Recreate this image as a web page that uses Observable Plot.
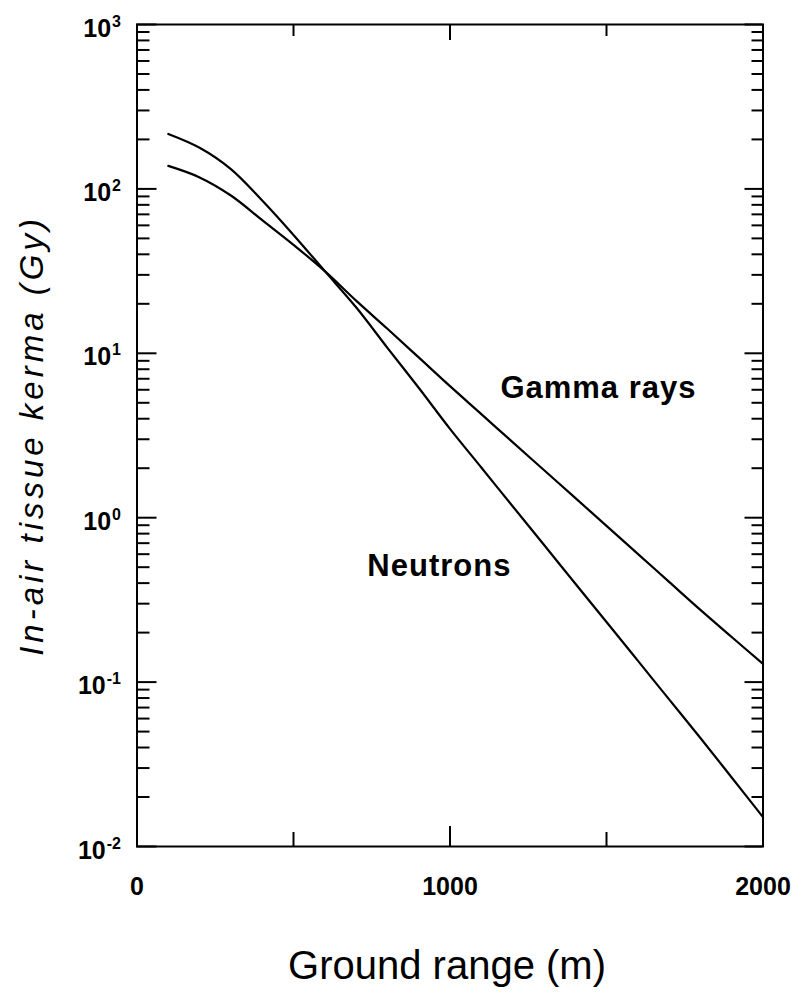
<!DOCTYPE html>
<html><head><meta charset="utf-8">
<script src="https://cdn.jsdelivr.net/npm/d3@7"></script>
<script src="https://cdn.jsdelivr.net/npm/@observablehq/plot@0.6"></script>
<style>body{margin:0;background:#fff}</style>
</head><body><div id="chart"></div>
<script>
// Ground range (m)
const rangeM = [100,200,300,400,500,600,700,800,900,1000,1100,1200,1300,1400,1500,1600,1700,1800,1900,2000];
// In-air tissue kerma (Gy)
const gammaGy   = [138,117.5,91.2,64.6,45.7,31.6,20.9,14.1,9.44,6.31,4.27,2.88,1.95,1.32,0.891,0.603,0.407,0.275,0.188,0.129];
const neutronGy = [216,178,132,85,52.5,31.6,19.05,10.8,6.17,3.47,2.02,1.175,0.684,0.398,0.232,0.135,0.0785,0.0457,0.0263,0.0151];

const yDecades = [0.01,0.1,1,10,100,1000];
const yMinorMultipliers = [2,3,4,5,6,7,8,9];
const xLabelTicks = [0,1000,2000];
const xMajorTicks = [1000];
const xMinorTicks = [500,1500];

const seriesLabels = ["Gamma rays","Neutrons"];
const labelX = [1161, 736];
const labelY = [5.38, 0.445];

const xTitle = "Ground range (m)";
const yTitle = "In-air tissue kerma (Gy)";

const gammaTable = rangeM.map((x,i)=>({x, y: gammaGy[i]}));
const neutronTable = rangeM.map((x,i)=>({x, y: neutronGy[i]}));
const labelTable = seriesLabels.map((t,i)=>({t, x: labelX[i], y: labelY[i]}));
const yMinor = yDecades.slice(0,-1).flatMap(d => yMinorMultipliers.map(k => k*d));

const W = 804, H = 996, ML = 136.5, MR = 41.5, MT = 24, MB = 150;
const PW = W - ML - MR, PH = H - MT - MB;
const font = "'Liberation Sans', Arial, Helvetica, sans-serif";
const tk = {strokeWidth: 2, stroke: "black"};

const chart = Plot.plot({
  width: W, height: H,
  marginTop: MT, marginRight: MR, marginBottom: MB, marginLeft: ML,
  style: {fontFamily: font, color: "black", background: "white"},
  x: {domain: [0,2000], axis: null},
  y: {type: "log", domain: [0.01,1000], axis: null},
  marks: [
    // inward ticks, left side
    Plot.tickY(yDecades, {y: d => d, insetRight: PW - 20, ...tk}),
    Plot.tickY(yMinor, {y: d => d, insetRight: PW - 13, ...tk}),
    // inward ticks, right side
    Plot.tickY(yDecades, {y: d => d, insetLeft: PW - 18, ...tk}),
    Plot.tickY(yMinor, {y: d => d, insetLeft: PW - 11, ...tk}),
    // inward ticks, bottom and top
    Plot.tickX(xMajorTicks, {x: d => d, insetTop: PH - 20, ...tk}),
    Plot.tickX(xMinorTicks, {x: d => d, insetTop: PH - 14, ...tk}),
    Plot.tickX(xMajorTicks, {x: d => d, insetBottom: PH - 16, ...tk}),
    Plot.tickX(xMinorTicks, {x: d => d, insetBottom: PH - 12, ...tk}),
    // tick labels
    Plot.axisY({anchor: "left", ticks: yDecades, tickSize: 0, tickPadding: 16, dy: 4, fontSize: 25, fontWeight: "bold",
      tickFormat: d => "10^" + Math.round(Math.log10(d)), label: null}),
    Plot.axisX({anchor: "bottom", ticks: xLabelTicks, tickSize: 0, tickPadding: 31, fontSize: 25, fontWeight: "bold",
      tickFormat: d => String(d), label: null}),
    Plot.frame({strokeWidth: 2}),
    Plot.line(gammaTable, {x: "x", y: "y", curve: "catmull-rom", strokeWidth: 2.2, stroke: "black"}),
    Plot.line(neutronTable, {x: "x", y: "y", curve: "catmull-rom", strokeWidth: 2.2, stroke: "black"}),
    Plot.text(labelTable, {x: "x", y: "y", text: "t", textAnchor: "start", lineAnchor: "bottom", fontSize: 31, fontWeight: "bold"}),
    Plot.text([xTitle], {frameAnchor: "bottom", dy: 120, dx: -3, fontSize: 40, lineAnchor: "middle", textAnchor: "middle"}),
    Plot.text([yTitle], {frameAnchor: "left", rotate: -90, dx: -104.5, fontSize: 33, fontStyle: "italic", lineAnchor: "middle", textAnchor: "middle"})
  ]
});

// superscript exponents on y tick labels
chart.querySelectorAll("text").forEach(t => {
  const s = t.textContent;
  if (/^10\^-?\d$/.test(s)) {
    const exp = s.split("^")[1];
    t.textContent = "";
    const ns = "http://www.w3.org/2000/svg";
    const a = document.createElementNS(ns, "tspan");
    a.textContent = "10";
    const b = document.createElementNS(ns, "tspan");
    b.textContent = exp;
    b.setAttribute("dy", "-10");
    b.setAttribute("font-size", "16");
    b.setAttribute("dx", "1");
    t.appendChild(a); t.appendChild(b);
  }
  if (s === yTitle) t.style.letterSpacing = "4px";
  if (s === seriesLabels[0] || s === seriesLabels[1]) t.style.letterSpacing = "1px";
});
document.getElementById("chart").appendChild(chart);
</script>
</body></html>
